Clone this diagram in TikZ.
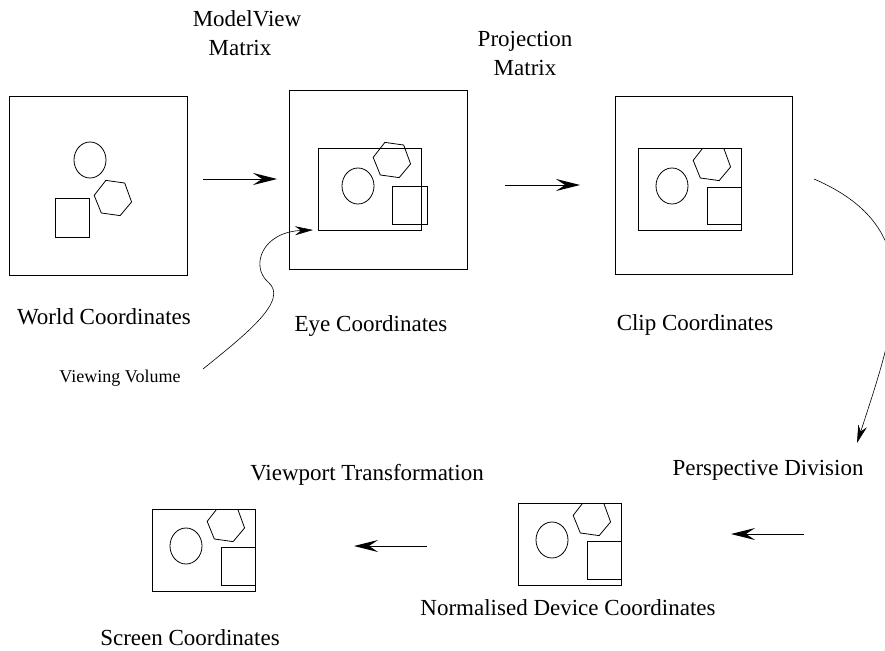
\documentclass[tikz,border=0pt]{standalone}
\usepackage{fontspec}
\setmainfont{Liberation Serif}
\usetikzlibrary{arrows.meta}
\begin{document}
\begin{tikzpicture}[x=1pt,y=-1pt,
  frame/.style={draw, line width=1pt, inner sep=0pt},
  shp/.style={draw, line width=0.8pt},
  lbl/.style={font=\fontsize{23}{27}\selectfont, inner sep=0pt, anchor=base},
  smalllbl/.style={font=\fontsize{18}{22}\selectfont, inner sep=0pt, anchor=base},
  bigarrow/.style={-{Stealth[length=24pt,width=12pt,inset=9pt]}, line width=1pt},
  thinarrow/.style={-{Stealth[length=18pt,width=9pt,inset=6pt]}, line width=0.6pt},
  hexa/.pic={\draw[shp] (12:19) -- (68:19) -- (128:19) -- (188:19) -- (248:19) -- (308:19) -- cycle;},
  blob/.style={shp, x radius=16pt, y radius=18pt}]
\useasboundingbox (0,0) rectangle (885,650);

% ---- World coordinates panel
\node[frame, minimum width=178pt, minimum height=178pt] (world) at (98,186) {};
\draw[blob] (90,160) ellipse [];
\pic at (113,198) {hexa};
\node[frame, minimum width=34pt, minimum height=39pt] (wsq) at (72,217.5) {};

% ---- Eye coordinates panel
\node[frame, minimum width=178pt, minimum height=178pt] (eye) at (378,180) {};
\node[frame, minimum width=103pt, minimum height=82pt] (eyevol) at (369.5,189) {};
\draw[blob] (358,186) ellipse [];
\pic at (392,160) {hexa};
\node[frame, minimum width=35pt, minimum height=38pt] (esq) at (409.5,205) {};

% ---- Clip coordinates panel
\node[frame, minimum width=177pt, minimum height=177pt] (clip) at (703.5,185.5) {};
\node[frame, minimum width=103pt, minimum height=82pt] (clipvol) at (689.5,189) {};
\begin{scope}
  \clip (638,148) rectangle (741,230);
  \draw[blob] (672,186) ellipse [];
  \pic at (712,163) {hexa};
  \draw[shp, line width=1pt] (707,187) rectangle (741,224);
\end{scope}

% ---- Normalised device coordinates panel
\node[frame, minimum width=103pt, minimum height=82pt] (ndc) at (569.5,544) {};
\begin{scope}
  \clip (518,503) rectangle (621,585);
  \draw[blob] (552,540) ellipse [];
  \pic at (592,518) {hexa};
  \draw[shp, line width=1pt] (587,541) rectangle (621,579);
\end{scope}

% ---- Screen coordinates panel
\node[frame, minimum width=103pt, minimum height=82pt] (screen) at (203.5,550) {};
\begin{scope}
  \clip (152,509) rectangle (255,591);
  \draw[blob] (186,546) ellipse [];
  \pic at (226,524) {hexa};
  \draw[shp, line width=1pt] (221,547) rectangle (255,585);
\end{scope}

% ---- Labels
\node[lbl] (mv1) at (247,27) {ModelView};
\node[lbl] (mv2) at (240,56) {Matrix};
\node[lbl] (pm1) at (525,47) {Projection};
\node[lbl] (pm2) at (525,76) {Matrix};
\node[lbl] (lworld) at (104,324) {World Coordinates};
\node[lbl] (leye) at (371,331) {Eye Coordinates};
\node[lbl] (lclip) at (695,330) {Clip Coordinates};
\node[smalllbl] (lvv) at (120,382) {Viewing Volume};
\node[lbl] (lpd) at (768,475) {Perspective Division};
\node[lbl] (lvt) at (367,480) {Viewport Transformation};
\node[lbl] (lndc) at (568,615) {Normalised Device Coordinates};
\node[lbl] (lscr) at (190,645) {Screen Coordinates};

% ---- Arrows
\coordinate (a1s) at (203,179); \coordinate (a1e) at (277,179);
\coordinate (a2s) at (505,185); \coordinate (a2e) at (580,185);
\coordinate (a3s) at (804,534); \coordinate (a3e) at (731,534);
\coordinate (a4s) at (427,546); \coordinate (a4e) at (354,546);
\draw[bigarrow] (a1s) -- (a1e);
\draw[bigarrow] (a2s) -- (a2e);
\draw[bigarrow] (a3s) -- (a3e);
\draw[bigarrow] (a4s) -- (a4e);

\coordinate (pds) at (814,179); \coordinate (pde) at (857,443);
\begin{scope}
  \clip (0,0) rectangle (885,650);
  \draw[thinarrow] (pds) .. controls (930,229) and (897,320) .. (pde);
\end{scope}

\coordinate (vvs) at (203,369); \coordinate (vve) at (313,230);
\draw[thinarrow] (vvs) .. controls (245,335) and (290,300) .. (268,282)
  .. controls (250,266) and (262,232) .. (vve);
\end{tikzpicture}
\end{document}
